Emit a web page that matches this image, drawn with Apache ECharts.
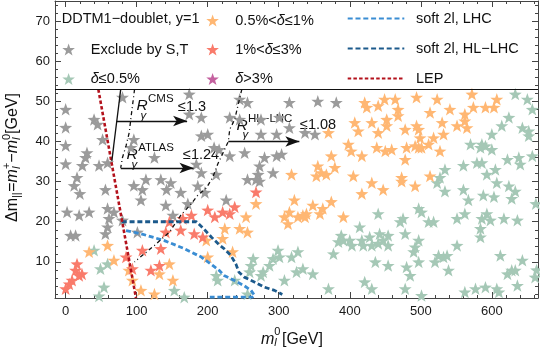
<!DOCTYPE html>
<html><head><meta charset="utf-8">
<script src="https://cdn.jsdelivr.net/npm/echarts@6/dist/echarts.min.js"></script>
<style>html,body{margin:0;padding:0;background:#fff}#c{width:540px;height:356px}</style>
</head><body><div id="c"></div>
<script>
const FONT = '"Liberation Sans", Arial, Helvetica, sans-serif';
const X_MIN = -15, X_MAX = 665, Y_MIN = 1, Y_MAX = 75;
const xTicks = [0,100,200,300,400,500,600];
const yTicks = [10,20,30,40,50,60,70];
const xMinor = []; for (let v = 20; v <= 660; v += 20) if (v % 100) xMinor.push(v);
const yMinor = []; for (let v = 2; v <= 74; v += 2) if (v % 10) yMinor.push(v);

const greyPts = [[0,48],[0,43.5],[0,39],[0,34.4],[30,37.2],[28,36],[23.5,34],[16,31],[12,29],[40,45.5],[45,44.3],[47,34],[52,40.5],[59,34.7],[56,28],[20,27],[80,51],[96,40.5],[92,38.5],[125,36],[96,29],[113,30.5],[108,28],[134,30.5],[142,28],[148,29.7],[162,27.3],[174,51.8],[174,46.8],[191,46],[191,41.4],[200,41.8],[184,34.3],[191,32.2],[209,38.5],[186,28.9],[196,27.3],[2,22.4],[19,21.6],[33,22.4],[7,16.6],[14,16.6],[59,23.3],[61,20.8],[59,18.7],[56,17],[68,22.4],[80,20.4],[101,17.4],[106,25.4],[141,24.1],[172,24.5],[151,21.6],[226,25.4],[245,50.5],[256,49.7],[315,49.7],[355,50],[381,49.7],[231,46],[245,45.5],[275,45.5],[301,46],[315,43.4],[337,42.2],[351,41.8],[275,41.8],[297,41.8],[252,37.2],[231,36.4],[216,38],[280,36],[297,36.4],[304,36.8],[273,33.9],[292,32.2],[271,31.8],[268,30.5],[256,30.5],[273,30.1],[212,31.8]];

const greenPts = [[633,51.8],[650,50.5],[657,48],[624,46],[614,43.9],[643,43.4],[652,42.6],[652,41.4],[600,41.8],[570,39.3],[586,39.3],[591,38.9],[584,38.5],[600,38],[579,34.7],[586,34.7],[560,34],[622,35.5],[638,36],[640,34.3],[657,36.4],[605,33],[593,31.8],[534,33],[527,31],[523,29.7],[607,29.7],[624,28.9],[633,27.6],[534,27.6],[560,28],
[440,22],[475,20.8],[471,20],[497,23.3],[501,22.4],[511,20],[518,20],[567,25.4],[551,20.8],[562,22],[586,20.8],[598,20.4],[593,22],[588,26.6],[603,26.2],[628,25.8],[617,20.8],[636,20.4],[662,24.5],[584,18.3],[584,16.2],[442,17],[454,16.6],[447,15.4],[454,14.1],[440,14.6],[478,17],[497,15.4],[492,13.7],[490,12.5],[497,10],[551,14.1],[525,11.6],[532,11.2],[537,11.6],[520,10],[539,7.9],[454,9.1],[480,8.7],[485,6.6],[478,3.3],[501,1.6],[562,2.5],[577,3.3],[591,3.7],[607,3.3],[610,2.5],[612,11.6],[643,10.4],[622,7],[628,7.9],[633,7.9],[636,4.1],[661,6.2],[663,8],
[299,12.9],[301,11.2],[292,10.8],[287,9.1],[278,7.5],[275,6.6],[264,10.8],[261,9.1],[259,7.5],[318,11.2],[327,12.5],[325,7.5],[334,8.3],[348,7],[308,5.4],[212,6.6],[214,5.4],[238,5.4],[256,2],[370,3.3],[377,12],[384,15],[388,16.6],[391,15.4],[400,15.4],[403,14.1],[414,18.7],[417,15.4],[419,14.1],[428,16.2],[431,14.1],[436,10],[421,5],[431,3.3],
[40,12.9],[49,8.3],[59,9.5],[54,3.7],[153,2.9],[47,1.5],[167,1.2]];

const orangePts = [[33,12.5],[59,14.1],[68,10.4],[89,7.9],[94,5.4],[146,9.5],[132,7],[151,5.4],[106,2.9],[125,2],[198,15.4],[200,11.2],
[268,24.5],[254,21.2],[224,18.3],[245,18.3],[256,17.4],[221,15.8],[235,12.5],[322,25.4],[308,21.2],[313,19.5],[315,22.4],[327,21.2],[334,21.6],[339,22],[337,21.2],[348,24.1],[358,22],[362,23.3],[374,25],[391,21.2],[417,27],
[318,31.8],[370,42.2],[374,36.4],[355,33.9],[360,32.2],[379,33.5],[367,31.8],[353,31.4],[398,39.3],[402,37.6],[407,44.7],[412,42.6],[424,48.5],[421,49.7],[431,44.7],[417,36.4],[405,31.4],[431,29.7],
[440,48.9],[449,50.5],[464,50.5],[494,51],[523,50.5],[572,51.8],[468,48],[468,46.4],[452,45.5],[452,43.9],[440,42.2],[478,43],[494,43.9],[497,43],[513,47.2],[530,44.7],[532,41.8],[541,48],[551,43.9],[562,46.8],[562,45.1],[565,43.4],[574,48.5],[591,48.5],[603,48.5],[607,50.5],[499,40.9],[518,40.9],[511,39.3],[501,38.5],[497,38.5],[480,38.5],[492,38.9],[527,37.6],[450,37.6],[459,38],[438,38.5],[478,35.5],[473,31],[473,30.1],[513,31.4],[492,28.9],[447,28]];

const redPts = [[16,9.5],[14,7.9],[23,7],[19,6.6],[9,5.4],[5,4.5],[0,3.3],[85,11.2],[108,12.9],[134,13.3],[141,17.4],[162,17.9],[146,20],[177,21.6],[200,22.9],[210,21.2],[181,17],[193,16.2],[120,7.9],[132,9.1],[94,8.3],[165,20.8],[268,27.4],[238,23.7],[231,22],[221,22.4]];

const purplePts = [];

const lepLine = [[46,53],[99,1]];
const lhcLine = [[85,17.8],[106,17],[139,15.3],[167,13.3],[191,11.2],[207,9.1],[216,7.9],[223,6.6],[237,5.4],[251,4.1],[261,2.9],[266,1.6],[263,1.2],[203,1.2]];
const hllhcLine = [[79,20],[184,20],[194,18.3],[205,16.2],[217,14.1],[223,13.3],[232.5,11.6],[239.6,9.5],[244,7.4],[251.5,6.2],[265.6,5],[279.7,3.7],[294,2.9],[305,1.9]];
const cmsLine = [[77.5,53],[65,35.1]];
const atlasLine = [[97,53],[92,46],[89.5,42.2],[85,38.9],[80,36],[77.5,33.4]];
const rhlLine = [[248,53],[238,45.5],[231,43],[229,40],[214,34.3],[207,31],[198,28.4],[186,26.6],[177,24.5],[162,21.6],[146,17.4],[125,14.1],[97,10]];
const arrows = [[[71.5,45.1],[171,45.1]],[[77.5,33.4],[180,33.4]],[[229,40],[329,40]]];
const separatorY = 53;

const STAR = 'path://M50,0L61.76,33.82L97.55,34.55L69.02,56.18L79.39,90.45L50,70L20.61,90.45L30.98,56.18L2.45,34.55L38.24,33.82Z';
const C = {grey:'#9b9b9b', green:'#a5c8b6', orange:'#ffb773', red:'#f97b6b', purple:'#c4619f', lhc:'#3a8dd3', hl:'#1c5a8c', lep:'#b3121c'};

const mctx = document.createElement('canvas').getContext('2d');
function fnt(s, it){ return (it?'italic ':'') + s + 'px ' + FONT; }
function tw(t, s, it){ mctx.font = fnt(s,it); return mctx.measureText(t).width; }
function T(t, x, y, s, it){ return {type:'text', x:x, y:y, silent:true, style:{text:t, font:fnt(s,it), fill:'#111', align:'left', verticalAlign:'middle'}}; }
function seq(list, ox, oy){
  let cur = 0, lastStart = 0, lastEnd = 0; const els = [];
  list.forEach(p => {
    const w = tw(p.t, p.s, p.it);
    const start = p.stack ? lastStart : cur + (p.gap||0);
    els.push(T(p.t, ox+start, oy+(p.dy||0), p.s, p.it));
    const end = start + w;
    if (p.stack) { cur = Math.max(lastEnd, end); lastEnd = cur; }
    else { lastStart = start; lastEnd = end; cur = end; }
  });
  return els;
}

const yLabel = {type:'group', x:12.5, y:222, rotation:Math.PI/2, children: seq([
  {t:'Δm', s:16},{t:'||', s:11, dy:4.5},{t:'=', s:16, gap:0.5},{t:'m', s:16, it:true},{t:'l', s:11, it:true, dy:4.5},{t:'+', s:11, dy:-5.5, stack:true},
  {t:'−', s:16},{t:'m', s:16, it:true},{t:'l', s:11, it:true, dy:4.5},{t:'0', s:11, dy:-5.5, stack:true},{t:'[GeV]', s:16}], 0, 0)};
const xLabel = {type:'group', x:261, y:339.5, children: seq([
  {t:'m', s:16, it:true},{t:'l', s:11, it:true, dy:3.5},{t:'0', s:11, dy:-8, stack:true},{t:'[GeV]', s:16, gap:1.5}], 0, 0)};

const annot = [
  T('R', 136.5, 106, 15.5, true), T('CMS', 148, 98.5, 11.5), T('γ', 140.5, 115.5, 11.5, true), T('≤1.3', 178, 107, 14.5),
  T('R', 126.5, 155, 15.5, true), T('ATLAS', 138.3, 147.7, 11.5), T('γ', 131.5, 165, 11.5, true), T('≤1.24', 183, 155, 14.5),
  T('R', 236.5, 126, 15.5, true), T('HL−LHC', 248, 118.5, 11.5), T('γ', 242.5, 134.5, 11.5, true), T('≤1.08', 300, 125, 14.5),
  T('DDTM1−doublet, y=1', 61.7, 19, 14.5)
];

const LT = {fontSize:14.5, fontFamily:FONT, color:'#111'};
function richFmt(name){
  if (name.indexOf('δ') < 0) return '{n|' + name + '}';
  return name.split('δ').map(s => s ? '{n|' + s + '}' : '').join('{i|δ}');
}
function legStar(name, cx, textLeft, cy){
  const iw = 2*(textLeft - 5 - cx), ih = 12;
  return {data:[name], left: cx - iw/2, top: cy - ih/2, itemWidth: iw, itemHeight: ih, itemGap:0, padding:0, selectedMode:false,
    formatter: richFmt,
    textStyle: Object.assign({lineHeight:12, rich:{n:Object.assign({lineHeight:12}, LT), i:Object.assign({lineHeight:12, fontStyle:'italic'}, LT)}}, LT)};
}
function legLine(name, x0, x1, textLeft, cy){
  const iw = x1 - x0, ih = 14, pad = textLeft - (x1 + 5);
  return {data:[name], left: x0, top: cy - ih/2, itemWidth: iw, itemHeight: ih, itemGap:0, padding:0, selectedMode:false,
    itemStyle:{opacity:0, borderWidth:0},
    formatter: n => '{sp| }{n|' + n + '}',
    textStyle: Object.assign({lineHeight:14, rich:{sp:{width:pad, lineHeight:14}, n:Object.assign({lineHeight:14}, LT)}}, LT)};
}

function xAx(pos, ticks, len, labels, line){
  return {type:'value', min:X_MIN, max:X_MAX, position:pos, splitLine:{show:false},
    axisLine:{show:line, onZero:false, lineStyle:{color:'#444', width:1}},
    axisTick:{show:true, inside:true, length:len, customValues:ticks, lineStyle:{color:'#444', width:1}},
    axisLabel: labels ? {show:true, customValues:ticks, margin:7, fontSize:13, fontFamily:FONT, color:'#1a1a1a'} : {show:false}};
}
function yAx(pos, ticks, len, labels, line){
  return {type:'value', min:Y_MIN, max:Y_MAX, position:pos, splitLine:{show:false},
    axisLine:{show:line, onZero:false, lineStyle:{color:'#444', width:1}},
    axisTick:{show:true, inside:true, length:len, customValues:ticks, lineStyle:{color:'#444', width:1}},
    axisLabel: labels ? {show:true, customValues:ticks, margin:5, fontSize:13, fontFamily:FONT, color:'#1a1a1a'} : {show:false}};
}

function scatter(name, data, color){
  return {type:'scatter', name:name, data:data, symbol:STAR, symbolSize:[13,12.5], itemStyle:{color:color, opacity:1}, z:2, silent:true};
}
function line(name, data, color, width, dash, z){
  return {type:'line', name:name, data:data, symbol:'none', showSymbol:false, silent:true, z:z||4,
    lineStyle:{color:color, width:width, type:dash, cap:'butt'}, itemStyle:{color:color}};
}

const series = [
  scatter('Exclude by S,T', greyPts, C.grey),
  scatter('δ≤0.5%', greenPts, C.green),
  scatter('0.5%<δ≤1%', orangePts, C.orange),
  scatter('1%<δ≤3%', redPts, C.red),
  scatter('δ>3%', purplePts, C.purple),
  line('soft 2l, LHC', lhcLine, C.lhc, 2.8, [5,2.8]),
  line('soft 2l, HL−LHC', hllhcLine, C.hl, 2.8, [5,2.8]),
  line('LEP', lepLine, C.lep, 2.6, [3.5,2.2]),
  Object.assign(line('cms', cmsLine, '#111', 1.3, 'solid', 5), {
    markLine:{silent:true, symbol:['none','arrow'], symbolSize:[8,14], label:{show:false},
      lineStyle:{color:'#111', width:1.3, type:'solid'},
      data: arrows.map(a => [{coord:a[0]},{coord:a[1]}])}}),
  line('atlas', atlasLine, '#111', 1.3, [4,3,1,3], 5),
  Object.assign(line('rhl', rhlLine, '#111', 1.3, [4,3,1,3], 5), {
    markLine:{silent:true, symbol:['none','none'], label:{show:false},
      lineStyle:{color:'#111', width:1, type:'solid'}, data:[{yAxis:separatorY}]}})
];

const chart = echarts.init(document.getElementById('c'), null, {renderer:'canvas'});
chart.setOption({
  animation:false,
  backgroundColor:'#fff',
  grid:{left:55, right:2, top:1, bottom:58},
  xAxis:[xAx('bottom', xTicks, 6, true, true), xAx('bottom', xMinor, 3, false, false), xAx('top', xTicks, 6, false, true), xAx('top', xMinor, 3, false, false)],
  yAxis:[yAx('left', yTicks, 6, true, true), yAx('left', yMinor, 3, false, false), yAx('right', yTicks, 6, false, true), yAx('right', yMinor, 3, false, false)],
  legend:[
    legStar('Exclude by S,T', 79.5, 101.7, 48),
    legStar('δ≤0.5%', 79.5, 101.7, 77.5),
    legStar('0.5%<δ≤1%', 224, 246.7, 19),
    legStar('1%<δ≤3%', 224, 246.7, 48),
    legStar('δ>3%', 224, 246.7, 77.5),
    legLine('soft 2l, LHC', 346.7, 403.3, 415, 18),
    legLine('soft 2l, HL−LHC', 346.7, 403.3, 415, 48),
    legLine('LEP', 346.7, 403.3, 415, 78)
  ],
  graphic: [yLabel, xLabel].concat(annot),
  series: series
});
</script>
</body></html>
